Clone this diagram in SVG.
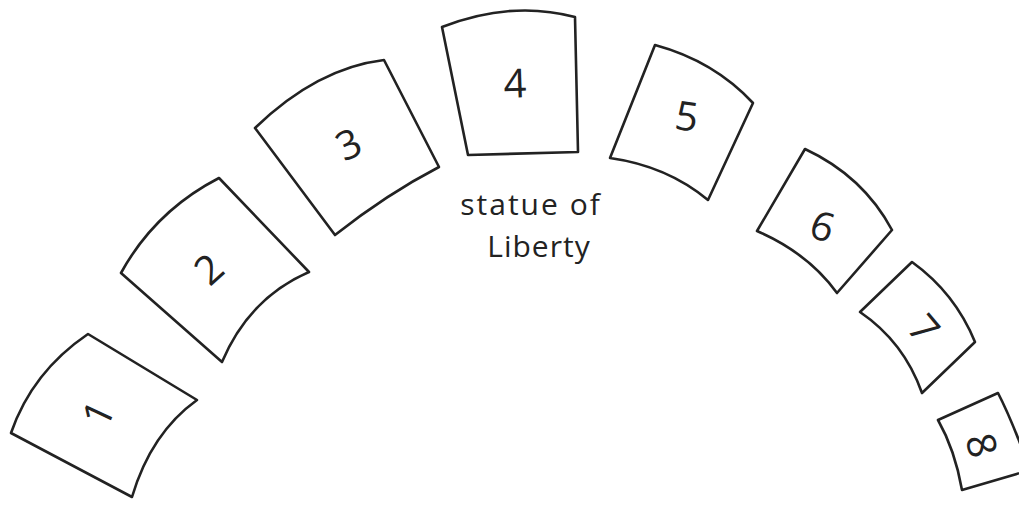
<svg xmlns="http://www.w3.org/2000/svg" width="1019" height="506" viewBox="0 0 1019 506">
<style>
.box{fill:#fff;stroke:#222;stroke-width:2.6;stroke-linejoin:round;stroke-linecap:round}
.num{font-family:"Open Sans","Liberation Sans",sans-serif;font-size:40px;font-weight:400;fill:#222;text-anchor:middle;dominant-baseline:central}
.cap{font-family:"Open Sans","Liberation Sans",sans-serif;font-size:30px;font-weight:400;fill:#222;text-anchor:middle}
</style>
<rect width="1019" height="506" fill="#fff"/>
<g id="connectors"></g>
<g id="box1">
<path class="box" d="M11,433 Q32,372 88,334 L197,400 Q151,433 132,497 Z"/>
<text class="num" transform="translate(97,413) rotate(-65)">1</text>
</g>
<g id="box2">
<path class="box" d="M121,273 Q155,211 219,178 L309,272 Q249,298 222,362 Z"/>
<text class="num" transform="translate(208,268) rotate(-42)">2</text>
</g>
<g id="box3">
<path class="box" d="M255,128 Q317,68 384,60 L439,167 Q387,194 335,235 Z"/>
<text class="num" transform="translate(348,143) rotate(-25)">3</text>
</g>
<g id="box4">
<path class="box" d="M442,27 Q511.5,0 575,17 L578,152 L468,155 Z"/>
<text class="num" transform="translate(515,82) rotate(-2)">4</text>
</g>
<g id="box5">
<path class="box" d="M655,45 Q714,61 753,103 L708,200 Q667,166 610,158 Z"/>
<text class="num" transform="translate(687,115) rotate(8)">5</text>
</g>
<g id="box6">
<path class="box" d="M805,149 Q863,176 892,230 L837,293 Q808,253 757,231 Z"/>
<text class="num" transform="translate(823,225) rotate(18)">6</text>
</g>
<g id="box7">
<path class="box" d="M912,262 Q955,293 975,342 L922,393 Q904,342 860,312 Z"/>
<text class="num" transform="translate(925,328) rotate(50)">7</text>
</g>
<g id="box8">
<path class="box" d="M938,420 L998,393 Q1012,420 1030,470 L962,490 Q955,450 938,420 Z"/>
<text class="num" transform="translate(983,445) rotate(75)">8</text>
</g>
<g id="label">
<text class="cap" x="531" y="215" letter-spacing="2">statue of</text>
<text class="cap" x="539" y="257" letter-spacing="1">Liberty</text>
</g>
</svg>
